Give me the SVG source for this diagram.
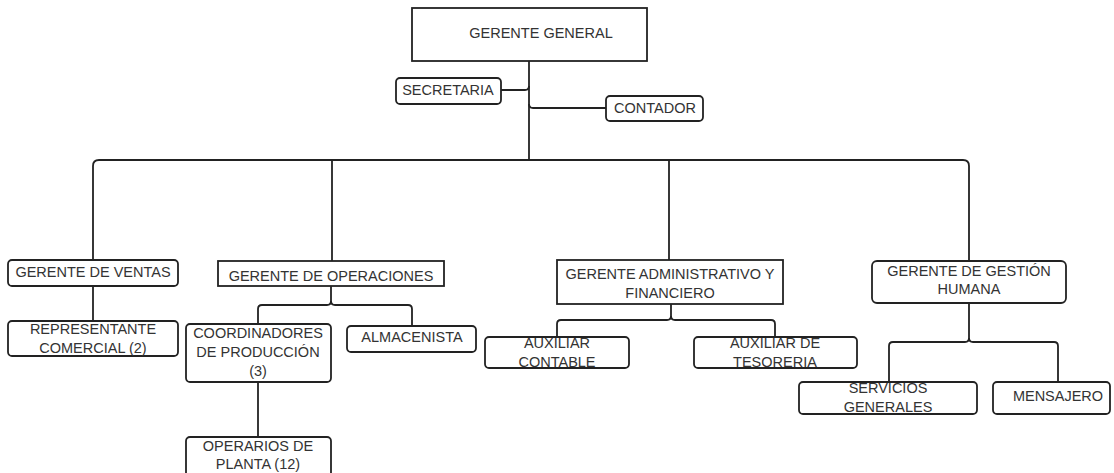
<svg xmlns="http://www.w3.org/2000/svg" width="1114" height="473" viewBox="0 0 1114 473">
<style>
.box{fill:#fff;stroke:#222;stroke-width:1.8}
.ln{fill:none;stroke:#222;stroke-width:1.8}
text{font-family:"Liberation Sans",Arial,sans-serif;font-size:14.5px;fill:#333;text-anchor:middle}
</style>
<rect width="1114" height="473" fill="#fff"/>
<g id="connectors">
<path class="ln" d="M529 61V160"/>
<path class="ln" d="M501 90H525Q529 90 529 86"/>
<path class="ln" d="M529 104Q529 108 533 108H606"/>
<path class="ln" d="M93 262V166Q93 160 99 160H963Q969 160 969 166V261"/>
<path class="ln" d="M332 160V261"/>
<path class="ln" d="M669 160V260"/>
<path class="ln" d="M93 286V321"/>
<path class="ln" d="M331 286V301Q331 305 327 305H262Q258 305 258 309V324"/>
<path class="ln" d="M331 301Q331 305 335 305H408Q412 305 412 309V326"/>
<path class="ln" d="M258 382V437"/>
<path class="ln" d="M671 304V316Q671 320 667 320H561Q557 320 557 324V337"/>
<path class="ln" d="M671 316Q671 320 675 320H771Q775 320 775 324V337"/>
<path class="ln" d="M969 303V338Q969 342 965 342H893Q889 342 889 346V382"/>
<path class="ln" d="M969 338Q969 342 973 342H1054Q1058 342 1058 346V382"/>
</g>
<g id="gerente-general"><rect class="box" x="412" y="8" width="235" height="53"/><text x="541" y="38">GERENTE GENERAL</text></g>
<g id="secretaria"><rect class="box" x="396" y="78" width="105" height="26" rx="4"/><text x="448" y="95">SECRETARIA</text></g>
<g id="contador"><rect class="box" x="606" y="96" width="97" height="25" rx="4"/><text x="655" y="113">CONTADOR</text></g>
<g id="gerente-ventas"><rect class="box" x="8" y="260" width="170" height="26" rx="4"/><text x="93" y="277">GERENTE DE VENTAS</text></g>
<g id="representante"><rect class="box" x="8" y="321" width="170" height="35" rx="4"/><text x="93" y="334">REPRESENTANTE</text><text x="93" y="353">COMERCIAL (2)</text></g>
<g id="gerente-operaciones"><rect class="box" x="218" y="261" width="226" height="25"/><text x="331" y="281">GERENTE DE OPERACIONES</text></g>
<g id="coordinadores"><rect class="box" x="186" y="324" width="145" height="58" rx="4"/><text x="258" y="338">COORDINADORES</text><text x="258" y="357">DE PRODUCCIÓN</text><text x="258" y="376">(3)</text></g>
<g id="almacenista"><rect class="box" x="347" y="326" width="129" height="26" rx="4"/><text x="412" y="342">ALMACENISTA</text></g>
<g id="operarios"><rect class="box" x="186" y="437" width="145" height="45" rx="4"/><text x="258" y="451">OPERARIOS DE</text><text x="258" y="469">PLANTA (12)</text></g>
<g id="gerente-administrativo"><rect class="box" x="557" y="260" width="226" height="44"/><text x="670" y="279">GERENTE ADMINISTRATIVO Y</text><text x="670" y="298">FINANCIERO</text></g>
<g id="auxiliar-contable"><rect class="box" x="485" y="337" width="144" height="31" rx="4"/><text x="557" y="348">AUXILIAR</text><text x="557" y="367">CONTABLE</text></g>
<g id="auxiliar-tesoreria"><rect class="box" x="694" y="337" width="163" height="31" rx="4"/><text x="775" y="348">AUXILIAR DE</text><text x="775" y="367">TESORERIA</text></g>
<g id="gerente-gestion"><rect class="box" x="872" y="261" width="194" height="42" rx="5"/><text x="969" y="276">GERENTE DE GESTIÓN</text><text x="969" y="294">HUMANA</text></g>
<g id="servicios"><rect class="box" x="799" y="382" width="178" height="32" rx="4"/><text x="888" y="393">SERVICIOS</text><text x="888" y="412">GENERALES</text></g>
<g id="mensajero"><rect class="box" x="993" y="382" width="117" height="32" rx="4"/><text x="1058" y="401">MENSAJERO</text></g>
</svg>
